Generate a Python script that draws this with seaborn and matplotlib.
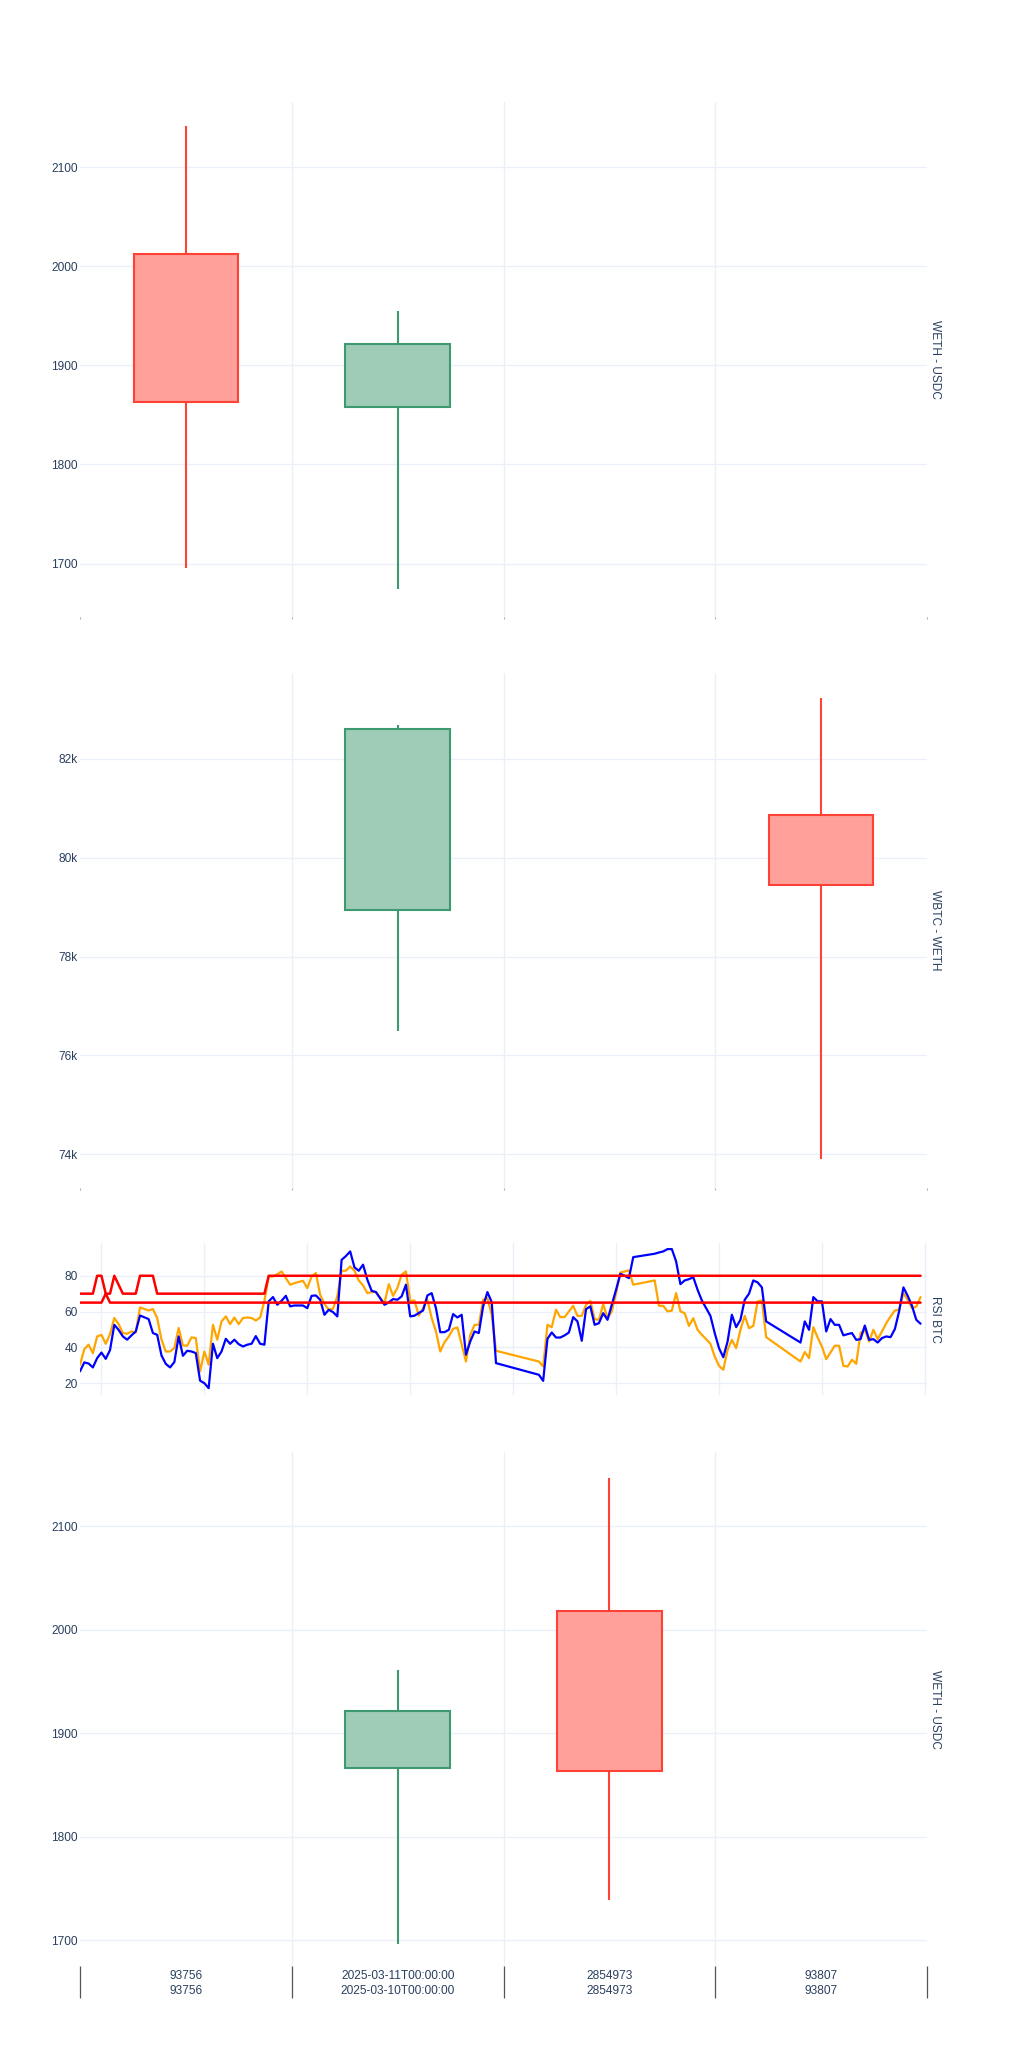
"""Candles for three pairs plus a BTC RSI strip, plotly-white look."""
# %%
import numpy as np
import pandas as pd
import seaborn as sns
import matplotlib

matplotlib.use("Agg")
import matplotlib.pyplot as plt
import matplotlib.dates as mdates
from matplotlib.ticker import FuncFormatter

# %%
# shared category axis of the candle panels (two label rows)
cat_top = ["93756", "2025-03-11T00:00:00", "2854973", "93807"]
cat_bottom = ["93756", "2025-03-10T00:00:00", "2854973", "93807"]

# WETH - USDC (top panel)
weth_a_open = [2013, 1858, None, None]
weth_a_high = [2142, 1955, None, None]
weth_a_low = [1695, 1674, None, None]
weth_a_close = [1863, 1922, None, None]

# WBTC - WETH
wbtc_open = [None, 78945, None, 80871]
wbtc_high = [None, 82686, None, 83240]
wbtc_low = [None, 76501, None, 73894]
wbtc_close = [None, 82607, None, 79446]

# WETH - USDC (bottom panel)
weth_b_open = [None, 1866, 2018, None]
weth_b_high = [None, 1961, 2147, None]
weth_b_low = [None, 1696, 1739, None]
weth_b_close = [None, 1922, 1864, None]

# RSI BTC, hours after the first sample
rsi_start = "2025-03-02 19:00"
rsi_hours = (list(range(0, 15)) + list(range(16, 51)) + list(range(52, 70))
             + list(range(71, 98)) + list(range(107, 130))
             + list(range(134, 161)) + list(range(168, 197)))
rsi_blue = [
    26.6, 31.6, 31.0, 28.8, 34.0, 37.1, 33.6, 38.5, 52.6, 49.8, 46.1, 44.3, 46.7, 48.9, 57.8,
    55.8, 48.0, 47.0, 35.5, 30.8, 28.8, 31.8, 46.1, 35.3, 38.1, 37.7, 36.8, 21.4, 20.0, 17.2,
    42.0, 34.0, 37.7, 44.8, 42.0, 44.3, 41.8, 40.5, 41.5, 42.0, 46.3, 42.0, 41.5, 65.7, 68.1,
    63.8, 66.0, 68.8, 62.9, 63.4,
    63.4, 61.9, 68.8, 69.0, 66.6, 58.2, 61.0, 59.7, 57.3, 88.9, 91.0, 93.6, 84.7, 82.8, 86.2,
    77.8, 71.6, 70.9,
    63.8, 65.1, 67.0, 66.6, 68.5, 75.0, 57.3, 57.7, 59.2, 60.6, 69.0, 70.3, 61.9, 48.5, 48.5,
    49.8, 58.6, 56.7, 58.2, 35.9, 43.3, 48.9, 48.0, 62.9, 70.9, 65.3, 31.2,
    24.7, 21.3, 44.8, 48.3, 45.5, 45.5, 46.7, 48.3, 56.9, 54.5, 43.7, 61.4, 62.9, 52.6, 53.5,
    59.1, 55.4, 63.8, 72.2, 81.1, 80.0, 78.7, 90.4,
    92.3, 93.0, 93.6, 94.9, 94.9, 88.0, 75.3, 77.4, 78.1, 79.2, 72.2, 66.2, 61.9, 57.6, 48.0,
    39.6, 34.5, 43.3, 58.2, 51.3, 55.4, 66.6, 70.0, 77.4, 76.3, 73.5, 54.5,
    42.7, 54.5, 49.8, 68.1, 65.7, 65.7, 48.9, 55.8, 52.6, 52.6, 46.7, 47.4, 48.0, 44.2, 44.6,
    52.2, 44.2, 44.6, 42.7, 45.2, 46.1, 45.7, 50.2, 60.1, 73.5, 68.8, 63.2, 55.4, 53.2,
]
rsi_orange = [
    30.3, 39.0, 41.5, 36.8, 46.1, 47.0, 42.0, 47.4, 56.4, 53.0, 48.0, 47.6, 48.9, 48.3, 62.3,
    60.6, 61.4, 56.4, 44.3, 37.7, 37.7, 39.6, 50.8, 41.1, 40.9, 45.6, 45.2, 26.6, 37.7, 30.3,
    52.6, 44.3, 54.5, 57.3, 53.0, 56.7, 53.0, 56.4, 56.7, 56.4, 55.0, 56.7, 66.0, 79.6, 79.6,
    80.9, 82.4, 78.7, 75.0, 75.9,
    77.2, 73.1, 79.6, 81.5, 69.4, 64.2, 61.0, 61.6, 68.5, 82.8, 82.8, 85.2, 82.8, 77.4, 74.6,
    70.3, 70.9, 70.9,
    64.7, 75.3, 68.8, 73.1, 80.6, 82.4, 66.0, 66.2, 57.8, 61.9, 66.6, 56.4, 48.9, 37.7, 42.9,
    46.1, 50.4, 51.1, 41.5, 32.1, 47.0, 52.6, 52.6, 66.6, 67.5, 58.2, 38.1,
    32.1, 29.3, 52.6, 51.3, 61.0, 56.9, 56.9, 60.1, 63.2, 57.6, 57.6, 63.8, 66.0, 55.8, 55.4,
    64.2, 56.3, 60.1, 70.3, 81.8, 82.4, 83.0, 75.0,
    77.4, 63.2, 63.2, 60.1, 60.5, 70.3, 60.1, 59.1, 52.0, 56.3, 49.8, 47.0, 44.6, 42.0, 34.9,
    29.7, 27.5, 38.6, 44.2, 39.6, 49.8, 57.6, 50.7, 52.0, 65.7, 66.2, 45.7,
    32.1, 37.4, 34.0, 51.3, 45.5, 40.5, 33.4, 37.2, 40.9, 40.9, 29.7, 29.3, 33.1, 30.8, 48.0,
    49.8, 43.3, 49.8, 44.6, 48.9, 53.5, 57.3, 60.6, 61.0, 70.3, 66.6, 61.9, 62.8, 68.1,
]
# threshold lines (red)
band_hours = [0, 3, 4, 5, 6, 7, 8, 10, 13, 14, 17, 18, 43, 44, 196]
band_upper = [70, 70, 80, 80, 70, 70, 80, 70, 70, 80, 80, 70, 70, 80, 80]
band_lower = [65, 65, 65, 65, 70, 65, 65, 65, 65, 65, 65, 65, 65, 65, 65]

# %%
W, H = 1024, 2048
TXT = "#2a3f5f"
GRID = "#EBF0F8"
FS = 8.6
UP_LINE, UP_FILL = "#3D9970", "#9ECCB7"
DN_LINE, DN_FILL = "#FF4136", "#FFA09A"

sns.set_theme(style="white")
plt.rcParams["font.family"] = ["Liberation Sans", "DejaVu Sans"]


def px_rect(left, top, right, bottom):
    """Pixel box -> figure fraction rect."""
    return [left / W, 1 - bottom / H, (right - left) / W, (bottom - top) / H]


def base_style(ax):
    """Plotly-white look."""
    for s in ax.spines.values():
        s.set_visible(False)
    ax.set_facecolor("white")
    ax.set_axisbelow(True)
    ax.grid(True, which="major", axis="y", color=GRID, lw=1)
    ax.tick_params(axis="y", length=0, pad=1.5, labelsize=FS, labelcolor=TXT)


def candle_panel(ax, o, h, l, c, ylim, yticks, fmt=None, labels=False):
    """Draw candles on the categorical axis."""
    base_style(ax)
    n = len(cat_top)
    for i in range(n):
        if o[i] is None:
            continue
        up = c[i] >= o[i]
        line, fill = (UP_LINE, UP_FILL) if up else (DN_LINE, DN_FILL)
        lo_b, hi_b = min(o[i], c[i]), max(o[i], c[i])
        ax.vlines(i, l[i], lo_b, color=line, lw=1.5, zorder=2)
        ax.vlines(i, hi_b, h[i], color=line, lw=1.5, zorder=2)
        ax.bar(i, hi_b - lo_b, bottom=lo_b, width=0.494, color=fill,
               edgecolor=line, linewidth=1.5, zorder=3)
    ax.set_xlim(-0.5, n - 0.5)
    ax.set_ylim(*ylim)
    ax.set_yticks(yticks)
    if fmt is not None:
        ax.yaxis.set_major_formatter(FuncFormatter(fmt))
    bounds = np.arange(n + 1) - 0.5
    ax.set_xticks(range(n))
    ax.set_xticks(bounds, minor=True)
    # category separators (interior only)
    for b in bounds[1:-1]:
        ax.axvline(b, color=GRID, lw=1, zorder=0)
    if labels:
        ax.set_xticklabels([f"{t}\n{b}" for t, b in zip(cat_top, cat_bottom)],
                           linespacing=1.35)
        ax.tick_params(axis="x", which="major", bottom=True, length=0, pad=3,
                       labelsize=FS, labelcolor=TXT)
        ax.tick_params(axis="x", which="minor", bottom=True, length=23,
                       width=0.9, color="#555555", direction="out")
    else:
        ax.tick_params(axis="x", which="major", length=0, labelbottom=False)
        ax.tick_params(axis="x", which="minor", bottom=True, length=1.5,
                       width=0.8, color="#aaaaaa", direction="out")


def side_label(ax, text):
    box = ax.get_position()
    fig.text(929 / W, box.y0 + box.height / 2, text, rotation=-90,
             ha="left", va="center", fontsize=FS, color=TXT)


# %%
fig = plt.figure(figsize=(W / 100, H / 100), dpi=100)
fig.patch.set_facecolor("white")

ax1 = fig.add_axes(px_rect(80, 102, 927, 617))
candle_panel(ax1, weth_a_open, weth_a_high, weth_a_low, weth_a_close,
             (1646, 2166), [1700, 1800, 1900, 2000, 2100])
side_label(ax1, "WETH - USDC")

ax2 = fig.add_axes(px_rect(80, 673, 927, 1188))
candle_panel(ax2, wbtc_open, wbtc_high, wbtc_low, wbtc_close,
             (73314, 83741), [74000, 76000, 78000, 80000, 82000],
             fmt=lambda v, _: f"{v / 1000:.0f}k")
side_label(ax2, "WBTC - WETH")

# RSI strip
ax3 = fig.add_axes(px_rect(80, 1243, 927, 1395))
base_style(ax3)
t0 = pd.Timestamp(rsi_start)
rsi_time = t0 + pd.to_timedelta(rsi_hours, unit="h")
band_time = t0 + pd.to_timedelta(band_hours, unit="h")
sns.lineplot(x=rsi_time, y=rsi_orange, color="orange", lw=1.6, ax=ax3, zorder=3)
sns.lineplot(x=rsi_time, y=rsi_blue, color="blue", lw=1.6, ax=ax3, zorder=4)
sns.lineplot(x=band_time, y=band_upper, color="red", lw=1.8, ax=ax3, zorder=5)
sns.lineplot(x=band_time, y=band_lower, color="red", lw=1.8, ax=ax3, zorder=5)
ax3.set_xlim(t0, t0 + pd.Timedelta(hours=197.5))
ax3.set_ylim(13.4, 98.3)
ax3.set_yticks([20, 40, 60, 80])
ax3.xaxis.set_major_locator(mdates.DayLocator())
ax3.grid(True, which="major", axis="x", color=GRID, lw=1)
ax3.tick_params(axis="x", length=0, labelbottom=False)
ax3.set_xlabel("")
ax3.set_ylabel("")
side_label(ax3, "RSI BTC")

ax4 = fig.add_axes(px_rect(80, 1452, 927, 1966))
candle_panel(ax4, weth_b_open, weth_b_high, weth_b_low, weth_b_close,
             (1675, 2172), [1700, 1800, 1900, 2000, 2100], labels=True)
side_label(ax4, "WETH - USDC")

fig.savefig("out.png", dpi=100, facecolor="white")
print("Saved out.png")
